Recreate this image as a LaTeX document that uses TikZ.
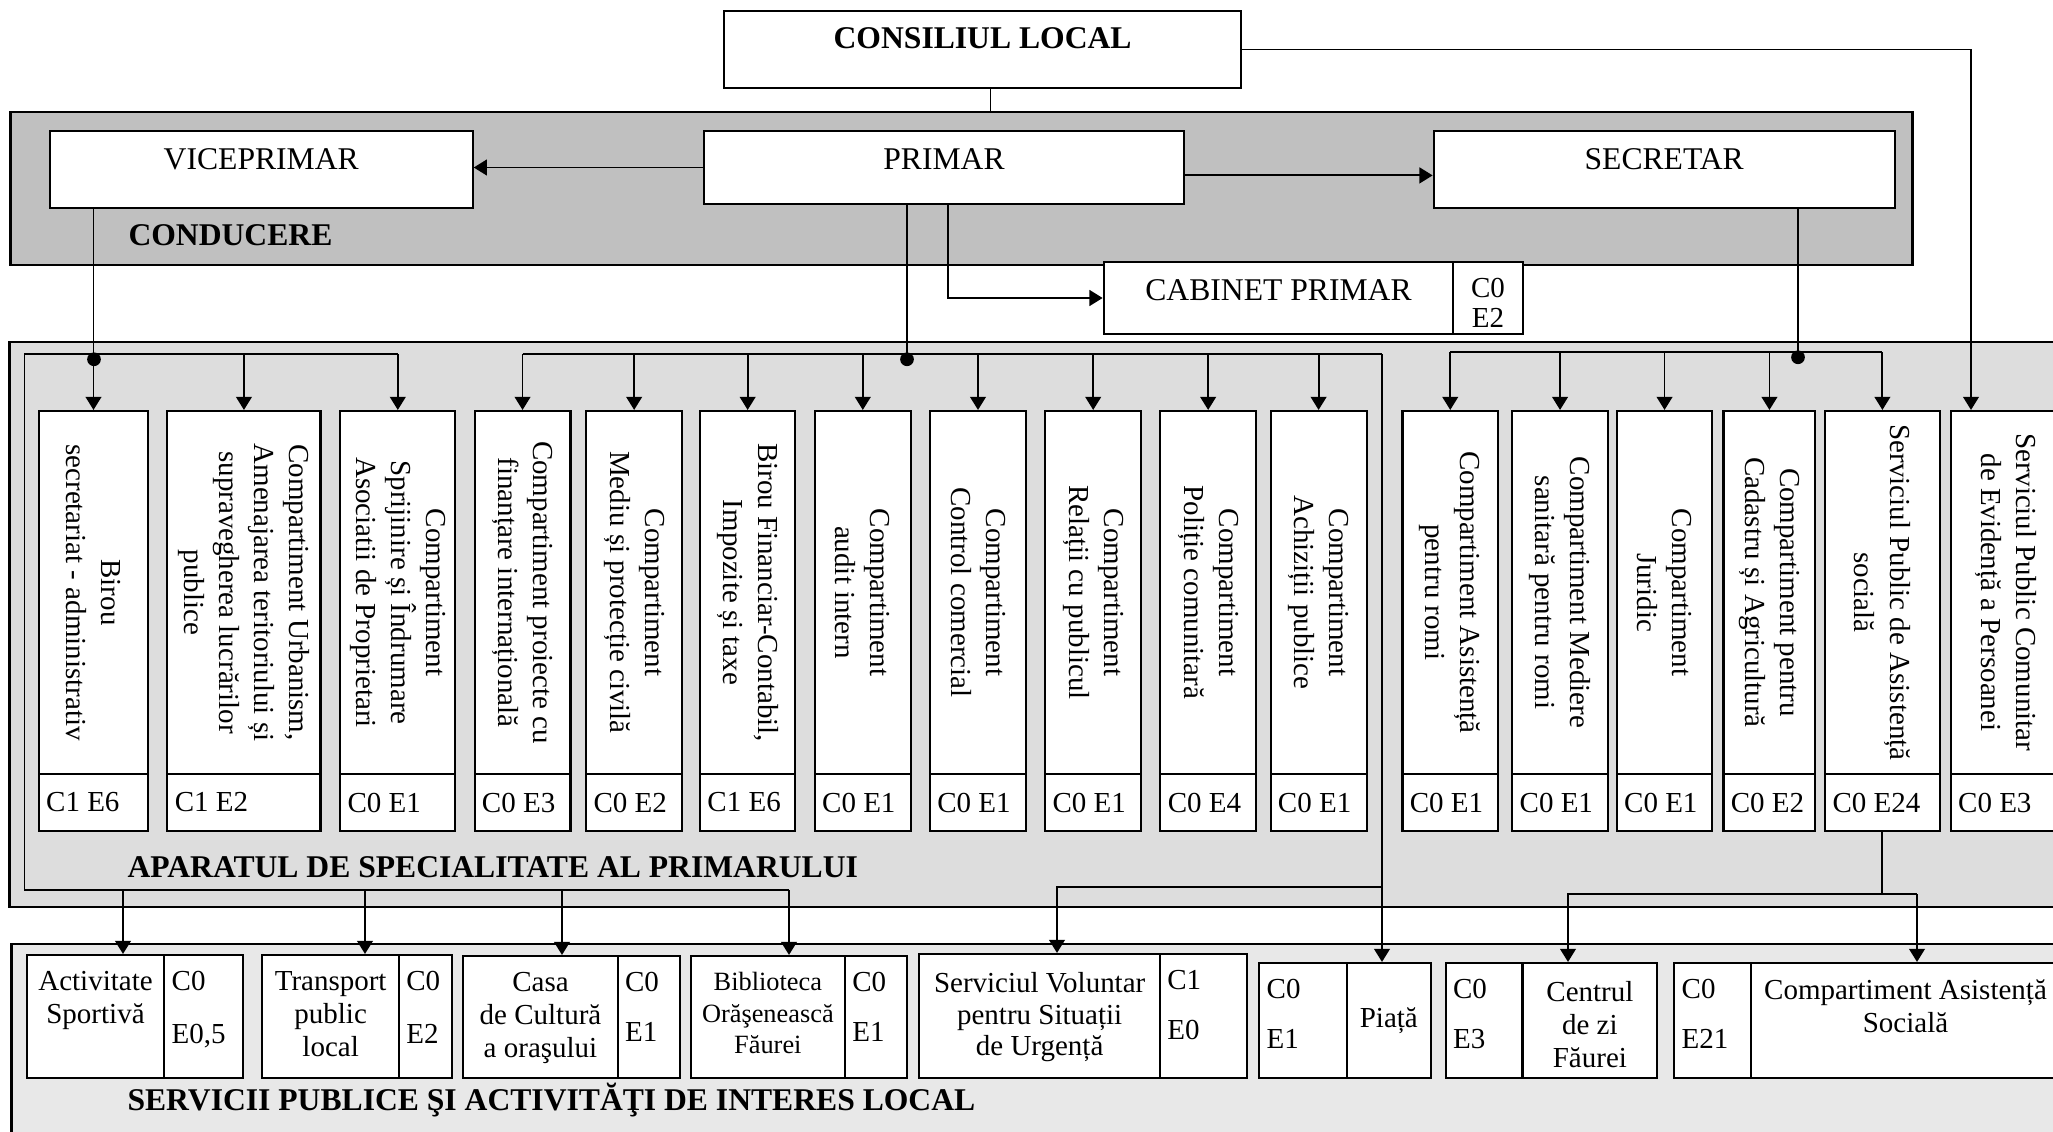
\documentclass[tikz,border=0pt]{standalone}
\usepackage{fontspec}
\setmainfont{Liberation Serif}
\usetikzlibrary{arrows.meta,fit}
\definecolor{condgray}{RGB}{192,192,192}
\definecolor{apargray}{RGB}{221,221,221}
\definecolor{servgray}{RGB}{232,232,232}

\begin{document}
\begin{tikzpicture}[x=0.3794pt,y=-0.3794pt,
    band/.style={draw,line width=1.1pt,inner sep=0pt},
    box/.style={draw,fill=white,line width=0.8pt,inner sep=0pt},
    conn/.style={line width=0.7pt},
    arr/.style={conn,-{Triangle[width=6pt,length=5pt]}},
    head/.style={inner sep=0pt,font=\fontsize{12}{14}\selectfont\bfseries},
    ttl/.style={inner sep=0pt,font=\fontsize{12}{14}\selectfont},
    vtext/.style={rotate=-90,align=center,inner sep=0pt,font=\fontsize{11}{13.3}\selectfont},
    cnt/.style={anchor=west,inner sep=0pt,font=\fontsize{11}{13}\selectfont},
    stext/.style={anchor=north,align=center,inner sep=0pt,font=\fontsize{11}{12.5}\selectfont},
    knt/.style={anchor=north west,align=left,inner sep=0pt}]
  \useasboundingbox (0,0) rectangle (2053,1132);

  % bands
  \node[band,fill=condgray,fit={(10.5,112) (1912.9,265)}] (cond) {};
  \node[band,fill=apargray,fit={(9.8,342) (2080,907)}] (apar) {};
  \node[band,fill=servgray,fit={(11.6,944) (2080,1160)}] (serv) {};
  \node[head,anchor=west] (lcond) at (128,235) {CONDUCERE};
  \node[head,anchor=west] (lapar) at (127,867) {APARATUL DE SPECIALITATE AL PRIMARULUI};
  \node[head,anchor=west] (lserv) at (127,1100) {SERVICII PUBLICE ŞI ACTIVITĂŢI DE INTERES LOCAL};

  % top boxes
  \node[box,fit={(724,10.7) (1241.2,88.3)}] (cons) {};
  \node[box,fit={(49.8,131) (472.7,208)}] (vice) {};
  \node[box,fit={(704.4,131) (1183.6,204)}] (primar) {};
  \node[box,fit={(1433.7,131) (1894.6,208)}] (secr) {};
  \node[box,fit={(1103.7,262) (1453.3,334)}] (cab) {};
  \node[box,fit={(1453.3,262) (1522.7,334)}] (cabn) {};
  \node[head] (tcons) at ([yshift=-11pt]cons.north) {CONSILIUL LOCAL};
  \node[ttl] (tvice) at ([yshift=-11pt]vice.north) {VICEPRIMAR};
  \node[ttl] (tprimar) at ([yshift=-11pt]primar.north) {PRIMAR};
  \node[ttl] (tsecr) at ([yshift=-11pt]secr.north) {SECRETAR};
  \node[ttl] (tcab) at ([yshift=-11pt]cab.north) {CABINET PRIMAR};
  \node[align=center,inner sep=0pt,font=\fontsize{11}{11.4}\selectfont] (ncab) at ([yshift=-2pt]cabn.center) {C0\\E2};

  % compartments
  \foreach \i/\xa/\xb/\txt/\num in {
    1/38.8/148.2/{Birou\\secretariat - administrativ}/C1 E6,
    2/167.4/320.5/{Compartiment Urbanism,\\Amenajarea teritoriului și\\supravegherea lucrărilor\\publice}/C1 E2,
    3/340.2/455.4/{Compartiment\\Sprijinire și Îndrumare\\Asociatii de Proprietari}/C0 E1,
    4/474.6/570.5/{Compartiment proiecte cu\\finanțare internațională}/C0 E3,
    5/586.2/682.1/{Compartiment\\Mediu și protecție civilă}/C0 E2,
    6/700.1/795.2/{Birou Financiar-Contabil,\\Impozite și taxe}/C1 E6,
    7/814.8/910.8/{Compartiment\\audit intern}/C0 E1,
    8/930/1026/{Compartiment\\Control comercial}/C0 E1,
    9/1045.2/1141.2/{Compartiment\\Relații cu publicul}/C0 E1,
    10/1160.4/1255.9/{Compartiment\\Poliție comunitară}/C0 E4,
    11/1270.6/1366.6/{Compartiment\\Achiziții publice}/C0 E1,
    12/1402.5/1498/{Compartiment Asistență\\pentru romi}/C0 E1,
    13/1512.3/1607.8/{Compartiment Mediere\\sanitară pentru romi}/C0 E1,
    14/1616.8/1712.3/{Compartiment\\Juridic}/C0 E1,
    15/1723.5/1815.4/{Compartiment pentru\\Cadastru și Agricultură}/C0 E2,
    16/1825.2/1939.6/{Serviciul Public de Asistență\\socială}/C0 E24,
    17/1950.8/2061/{Serviciul Public Comunitar\\de Evidență a Persoanei}/C0 E3}{
    \node[box,fit={(\xa,411) (\xb,774)}] (u\i) {};
    \node[box,fit={(\xa,774) (\xb,831)}] (c\i) {};
    \node[vtext] (t\i) at (u\i.center) {\txt};
    \node[cnt] (n\i) at ([xshift=3pt]c\i.west) {\num};
  }

  % public services
  \foreach \s/\xa/\xb/\xc/\yt in {A/26.7/164.3/242.7/955, B/262.3/399/451.7/955,
      C/463.3/617.7/680/956, D/690.7/845/907.3/956, E/919.3/1160/1247.3/954}{
    \node[box,fit={(\xa,\yt) (\xb,1078)}] (s\s) {};
    \node[box,fit={(\xb,\yt) (\xc,1078)}] (k\s) {};
  }
  \foreach \s/\xa/\xb/\xc in {F/1259.3/1346.7/1431, G/1445.7/1522.5/1657.3, H/1674.3/1751/2060}{
    \node[box,fit={(\xa,963) (\xb,1078)}] (k\s) {};
    \node[box,fit={(\xb,963) (\xc,1078)}] (s\s) {};
  }
  \node[stext] (tA) at ([yshift=-6.5pt]sA.north) {Activitate\\Sportivă};
  \node[stext] (tB) at ([yshift=-6.5pt]sB.north) {Transport\\public\\local};
  \node[stext] (tC) at ([yshift=-6.5pt]sC.north) {Casa\\de Cultură\\a oraşului};
  \node[stext,font=\fontsize{10}{11.8}\selectfont] (tD) at ([yshift=-6.5pt]sD.north) {Biblioteca\\Orăşenească\\Făurei};
  \node[stext,font=\fontsize{11}{12}\selectfont] (tE) at ([yshift=-7.2pt]sE.north) {Serviciul Voluntar\\pentru Situații\\de Urgență};
  \node[ttl,font=\fontsize{11}{13}\selectfont] (tF) at (sF.center) {Piață};
  \node[stext,font=\fontsize{11}{12.6}\selectfont] (tG) at ([yshift=-7.2pt]sG.north) {Centrul\\de zi\\Făurei};
  \node[stext,font=\fontsize{11}{12.6}\selectfont] (tH) at ([yshift=-6.5pt]sH.north) {Compartiment Asistență\\Socială};
  \foreach \s/\cc/\ee/\g in {A/C0/{E0,5}/20, B/C0/E2/20, C/C0/E1/19, D/C0/E1/19,
      E/C1/E0/19, F/C0/E1/19, G/C0/E3/19, H/C0/E21/19}
    \node[knt,font=\fontsize{11}{\g}\selectfont] (m\s) at ([xshift=3pt,yshift=-6.5pt]k\s.north west) {\cc\\\ee};

  % connectors
  \coordinate (ce) at (1971,49.5);
  \coordinate (vl) at (24.5,354);
  \coordinate (vdot) at (94,354);
  \coordinate (vb) at (24.5,890);
  \coordinate (vbe) at (789,890);
  \coordinate (pdot) at (907,354);
  \coordinate (pr) at (1382,354);
  \coordinate (pj) at (1382,887);
  \coordinate (pe) at (1057,887);
  \coordinate (sdot) at (1798,352);
  \coordinate (gj) at (1568,894);
  \coordinate (hj) at (1917,894);

  \draw[conn] ([xshift=3pt]cons.south) -- ([xshift=3pt]cons.south |- cond.north);
  \draw[arr] (cons.east) -- (ce) -- (ce |- u17.north);
  \draw[arr] (primar.west) -- (primar.west -| vice.east);
  \draw[arr] ([yshift=-3pt]primar.east) -- ([yshift=-3pt]primar.east -| secr.west);
  \draw[arr] ([xshift=1.5pt]primar.south) |- (cab.west);
  % viceprimar
  \draw[arr] (vice.south -| u1.north) -- (u1.north);
  \draw[conn] (vbe) -- (vb) -- (vl) -- (vl -| u3.north);
  \foreach \j in {2,3} \draw[arr] (vl -| u\j.north) -- (u\j.north);
  \draw[arr] (vbe) -- (vbe |- sD.north);
  \foreach \s/\x in {A/123,B/365,C/562} {
    \coordinate (d\s) at (\x,890);
    \draw[arr] (d\s) -- (d\s |- s\s.north);
  }
  % primar
  \draw[conn] (primar.south -| pdot) -- (pdot);
  \draw[conn] (pr -| u4.north) -- (pr);
  \foreach \j in {4,...,11} \draw[arr] (pr -| u\j.north) -- (u\j.north);
  \draw[arr] (pr) -- (pr |- sF.north);
  \draw[arr] (pj) -- (pe) -- (pe |- sE.north);
  % secretar
  \draw[conn] (secr.south -| sdot) -- (sdot);
  \draw[conn] (u12.north |- sdot) -- (u16.north |- sdot);
  \foreach \j in {12,...,16} \draw[arr] (u\j.north |- sdot) -- (u\j.north);
  \draw[conn] (c16.south) -- (c16.south |- hj);
  \draw[arr] (hj) -- (gj) -- (gj |- sG.north);
  \draw[arr] (hj) -- (hj |- sH.north);
  \foreach \d in {vdot,pdot,sdot} \fill ([yshift=-2pt]\d) circle (2.6pt);
\end{tikzpicture}
\end{document}
